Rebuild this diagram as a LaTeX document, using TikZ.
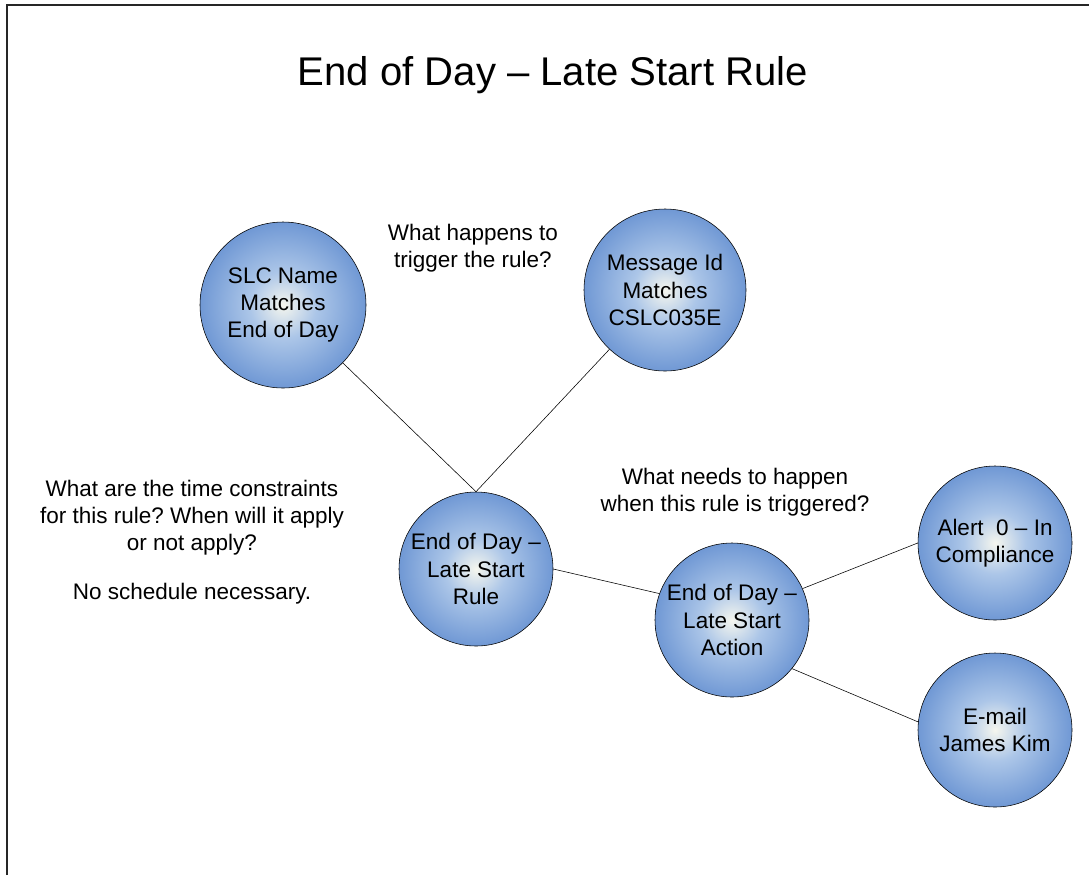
\documentclass[tikz,border=0pt]{standalone}
\usepackage{fontspec}
\setmainfont{Liberation Sans}
\usepackage{tikz}
\usetikzlibrary{shapes.geometric}
\frenchspacing

% Colours of the bubbles
\definecolor{bubblein}{RGB}{245,246,238}
\definecolor{bubblelight}{RGB}{172,198,232}
\definecolor{bubblemid}{RGB}{92,137,206}
\definecolor{bubbleout}{RGB}{60,104,188}
\pgfdeclareradialshading{bubbleglow}{\pgfpoint{0bp}{0bp}}{%
  color(0bp)=(bubblein); color(10bp)=(bubblelight); color(30bp)=(bubblemid);
  color(48bp)=(bubbleout); color(50bp)=(bubbleout)}

\begin{document}
\begin{tikzpicture}[
    font=\fontsize{16}{19.5}\selectfont,
    bubble/.style={circle, draw=black, thin, shading=bubbleglow, align=center,
      inner sep=0pt, minimum size=3.85cm},
    note/.style={align=center}
  ]
    % Dimensions
    \def\pagewidth{27.225}
    \def\pageheight{21.875}

    \useasboundingbox (0,0) rectangle (\pagewidth,-\pageheight);

    % Frame (left and top edge only)
    \draw[black!85, line width=0.8pt] (0.175,-\pageheight) -- (0.175,-0.125) -- (\pagewidth,-0.125);

    % Title
    \node[font=\fontsize{28.5}{34}\selectfont] (title) at (13.825,-1.875) {End of Day – Late Start Rule};

    % Triggers
    \node[bubble, minimum size=4.15cm] (slc) at (7.075,-7.625) {SLC Name\\Matches\\End of Day};
    \node[bubble, minimum size=4.05cm] (msgid) at (16.625,-7.25) {Message Id\\Matches\\CSLC035E};

    % Rule and action
    \node[bubble] (rule) at (11.9,-14.225) {End of Day –\\Late Start\\Rule};
    \node[bubble] (action) at (18.3,-15.5) {End of Day –\\Late Start\\Action};

    % Results
    \node[bubble] (alert) at (24.875,-13.575) {Alert~ 0 – In\\Compliance};
    \node[bubble] (email) at (24.875,-18.25) {E-mail\\James Kim};

    % Questions
    \node[note] (qtrigger) at (11.825,-6.2) {What happens to\\trigger the rule?};
    \node[note] (qaction) at (18.375,-12.3) {What needs to happen\\when this rule is triggered?};
    \node[note] (qtime) at (4.8,-13.55)
      {What are the time constraints\\for this rule? When will it apply\\or not apply?\\[15pt]No schedule necessary.};

    % Connectors
    \draw (slc) -- (rule.north);
    \draw (msgid) -- (rule.north);
    \draw (rule.east) -- (action.160);
    \draw (action.24) -- (alert.west);
    \draw (action.-39) -- (email.174);
\end{tikzpicture}
\end{document}
